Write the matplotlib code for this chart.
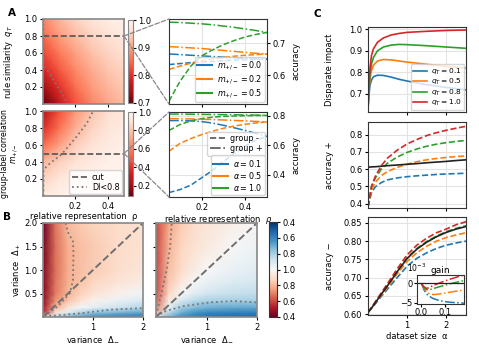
import numpy as np
import matplotlib
matplotlib.use('Agg')
import matplotlib.pyplot as plt
from matplotlib.patches import ConnectionPatch
from matplotlib.lines import Line2D

# ---------------- data ----------------
# Panel A, top heatmap: disparate impact vs relative representation (rho) and rule similarity (q_T)
rho_grid = [0.0, 0.1, 0.2, 0.3, 0.4, 0.5]
q_grid = [0.0, 0.2, 0.4, 0.6, 0.8, 1.0]
di_rho_q = [
    [0.700, 0.765, 0.830, 0.875, 0.905, 0.925],
    [0.735, 0.800, 0.855, 0.895, 0.920, 0.940],
    [0.785, 0.835, 0.880, 0.910, 0.935, 0.950],
    [0.820, 0.865, 0.900, 0.930, 0.950, 0.965],
    [0.850, 0.895, 0.925, 0.950, 0.965, 0.978],
    [0.875, 0.920, 0.950, 0.970, 0.985, 0.995],
]
q_cut = 0.8
di_top_contour_rho = [0.003, 0.003, 0.156]
di_top_contour_q = [1.0, 0.47, 0.0]

# Panel A, bottom heatmap: disparate impact vs rho and group-label correlation m
m_grid = [0.0, 0.2, 0.4, 0.6, 0.8, 1.0]
di_rho_m = [
    [0.95, 0.98, 0.99, 1.00, 1.00, 1.00],
    [0.85, 0.92, 0.96, 0.98, 0.99, 0.995],
    [0.76, 0.84, 0.90, 0.94, 0.97, 0.985],
    [0.55, 0.70, 0.83, 0.90, 0.94, 0.97],
    [0.38, 0.57, 0.74, 0.85, 0.91, 0.95],
    [0.25, 0.48, 0.67, 0.80, 0.88, 0.93],
]
m_cut = 0.5
di_bot_contour_rho = [0.003, 0.003, 0.043, 0.115, 0.208, 0.27, 0.31]
di_bot_contour_m = [0.0, 0.31, 0.385, 0.49, 0.70, 0.855, 1.0]

# Panel A, right: accuracy curves along the cuts
rho_line = [0.05, 0.1, 0.15, 0.2, 0.25, 0.3, 0.35, 0.4, 0.45, 0.5]
m_labels = [r'$m_{+/-}=0.0$', r'$m_{+/-}=0.2$', r'$m_{+/-}=0.5$']
acc_m_minus = [
    [0.633, 0.636, 0.639, 0.641, 0.643, 0.645, 0.647, 0.648, 0.649, 0.650],
    [0.618, 0.628, 0.637, 0.644, 0.650, 0.655, 0.659, 0.662, 0.664, 0.666],
    [0.519, 0.580, 0.628, 0.660, 0.679, 0.695, 0.708, 0.719, 0.727, 0.733],
]
acc_m_plus = [
    [0.666, 0.664, 0.662, 0.660, 0.658, 0.656, 0.654, 0.652, 0.651, 0.650],
    [0.689, 0.687, 0.685, 0.683, 0.680, 0.677, 0.674, 0.671, 0.668, 0.666],
    [0.765, 0.764, 0.762, 0.760, 0.757, 0.753, 0.749, 0.744, 0.739, 0.733],
]
a_labels = [r'$\alpha=0.1$', r'$\alpha=0.5$', r'$\alpha=1.0$']
acc_a_minus = [
    [0.280, 0.300, 0.330, 0.380, 0.430, 0.490, 0.545, 0.595, 0.635, 0.660],
    [0.560, 0.612, 0.645, 0.672, 0.695, 0.715, 0.730, 0.742, 0.751, 0.758],
    [0.700, 0.740, 0.765, 0.780, 0.790, 0.795, 0.798, 0.800, 0.801, 0.802],
]
acc_a_plus = [
    [0.767, 0.767, 0.765, 0.760, 0.750, 0.735, 0.718, 0.700, 0.680, 0.660],
    [0.780, 0.779, 0.778, 0.776, 0.774, 0.771, 0.768, 0.765, 0.761, 0.758],
    [0.811, 0.811, 0.810, 0.809, 0.808, 0.807, 0.806, 0.805, 0.804, 0.802],
]

# Panel B heatmaps: variance Delta_- (columns) and Delta_+ (rows)
# values on a folded scale: <1 -> DI (red side), >1 -> 2 - DI (blue side)
dminus_grid = [0.0, 0.25, 0.5, 0.75, 1.0, 1.5, 2.0]
dplus_grid = [0.0, 0.1, 0.2, 0.35, 0.5, 0.75, 1.0, 1.5, 2.0]
di_var_left = [
    [0.90, 1.15, 1.28, 1.34, 1.38, 1.42, 1.44],
    [0.55, 0.90, 1.07, 1.17, 1.23, 1.28, 1.31],
    [0.50, 0.79, 0.93, 1.01, 1.06, 1.13, 1.18],
    [0.47, 0.73, 0.83, 0.91, 0.97, 1.04, 1.09],
    [0.46, 0.69, 0.795, 0.86, 0.91, 0.97, 1.02],
    [0.45, 0.68, 0.785, 0.83, 0.87, 0.92, 0.95],
    [0.44, 0.67, 0.78, 0.82, 0.85, 0.895, 0.925],
    [0.42, 0.67, 0.78, 0.82, 0.845, 0.885, 0.91],
    [0.40, 0.68, 0.81, 0.845, 0.865, 0.89, 0.91],
]
di_var_right = [
    [1.00, 1.27, 1.37, 1.42, 1.45, 1.47, 1.48],
    [0.80, 1.16, 1.29, 1.35, 1.38, 1.40, 1.41],
    [0.70, 1.05, 1.21, 1.26, 1.29, 1.31, 1.31],
    [0.65, 0.95, 1.10, 1.16, 1.19, 1.20, 1.20],
    [0.62, 0.87, 1.00, 1.07, 1.11, 1.14, 1.15],
    [0.60, 0.84, 0.93, 1.00, 1.04, 1.08, 1.10],
    [0.60, 0.82, 0.89, 0.95, 1.00, 1.04, 1.07],
    [0.60, 0.79, 0.87, 0.91, 0.94, 1.00, 1.03],
    [0.60, 0.77, 0.85, 0.89, 0.92, 0.96, 1.00],
]
diag_line = [0.0, 2.0]
left_red_dm = [0.45, 0.50, 0.60, 0.61, 0.60, 0.54, 0.30, 0.03]
left_red_dp = [2.0, 1.8, 1.61, 1.36, 0.79, 0.51, 0.23, 0.02]
left_blue_dm = [0.03, 0.30, 0.80, 1.34, 2.0]
left_blue_dp = [0.02, 0.035, 0.085, 0.155, 0.19]
right_red_dm = [0.31, 0.28, 0.21, 0.11, 0.0]
right_red_dp = [1.98, 1.5, 1.0, 0.51, 0.02]
right_blue_dm = [0.0, 0.2, 0.54, 1.07, 1.53, 2.0]
right_blue_dp = [0.02, 0.13, 0.23, 0.31, 0.34, 0.31]
cb_ticks = [0.4, 0.6, 0.8, 1.0, 1.2, 1.4, 1.6]
cb_labels = ['0.4', '0.6', '0.8', '1.0', '0.8', '0.6', '0.4']

# Panel C: vs dataset size alpha
q_labels = [r'$q_T=0.1$', r'$q_T=0.5$', r'$q_T=0.8$', r'$q_T=1.0$']
alpha_di = [0.01, 0.03, 0.06, 0.1, 0.15, 0.25, 0.4, 0.6, 0.8, 1.0, 1.5, 2.0, 2.5]
di_alpha = [
    [0.63, 0.69, 0.74, 0.765, 0.78, 0.787, 0.786, 0.778, 0.768, 0.760, 0.743, 0.730, 0.719],
    [0.63, 0.70, 0.77, 0.81, 0.834, 0.853, 0.860, 0.858, 0.853, 0.848, 0.838, 0.828, 0.820],
    [0.63, 0.71, 0.79, 0.84, 0.87, 0.90, 0.918, 0.927, 0.930, 0.929, 0.924, 0.918, 0.912],
    [0.63, 0.72, 0.82, 0.88, 0.91, 0.94, 0.960, 0.974, 0.981, 0.986, 0.991, 0.995, 0.997],
]
alpha_acc = [0.01, 0.1, 0.2, 0.35, 0.5, 0.75, 1.0, 1.25, 1.5, 1.75, 2.0, 2.25, 2.5]
acc_plus = [
    [0.38, 0.465, 0.498, 0.522, 0.537, 0.549, 0.556, 0.561, 0.565, 0.569, 0.572, 0.574, 0.576],
    [0.38, 0.48, 0.525, 0.563, 0.585, 0.610, 0.629, 0.643, 0.654, 0.662, 0.668, 0.673, 0.677],
    [0.38, 0.50, 0.55, 0.60, 0.634, 0.670, 0.697, 0.717, 0.733, 0.745, 0.754, 0.761, 0.767],
    [0.38, 0.50, 0.56, 0.62, 0.663, 0.710, 0.746, 0.772, 0.795, 0.812, 0.826, 0.838, 0.849],
]
acc_plus_ref = [0.611, 0.613, 0.614, 0.617, 0.620, 0.624, 0.628, 0.632, 0.637, 0.641, 0.645, 0.650, 0.654]
acc_minus = [
    [0.605, 0.616, 0.629, 0.649, 0.668, 0.700, 0.731, 0.753, 0.768, 0.780, 0.789, 0.795, 0.800],
    [0.605, 0.617, 0.631, 0.652, 0.673, 0.710, 0.744, 0.768, 0.786, 0.800, 0.810, 0.817, 0.823],
    [0.605, 0.618, 0.633, 0.656, 0.679, 0.718, 0.754, 0.780, 0.799, 0.814, 0.826, 0.835, 0.842],
    [0.605, 0.619, 0.635, 0.659, 0.683, 0.724, 0.762, 0.789, 0.808, 0.823, 0.833, 0.845, 0.853],
]
acc_minus_ref = [0.605, 0.617, 0.632, 0.655, 0.677, 0.716, 0.752, 0.778, 0.797, 0.812, 0.824, 0.833, 0.840]
gain_x = [0.0, 0.01, 0.02, 0.03, 0.05, 0.07, 0.1, 0.13, 0.16, 0.18]
gain_1e3 = [
    [0, -1.5, -2.6, -3.2, -3.9, -4.3, -4.7, -4.9, -5.0, -5.1],
    [0, -1.2, -2.1, -2.6, -2.9, -2.8, -2.5, -2.2, -1.9, -1.7],
    [0, -1.0, -1.6, -1.7, -1.4, -1.0, -0.5, 0.0, 0.4, 0.7],
    [0, -0.8, -1.3, -1.2, -0.6, -0.1, 0.6, 1.2, 1.75, 2.1],
]

# ---------------- style ----------------
FS = 6
plt.rcParams.update({
    'font.family': ['DejaVu Sans'],
    'font.size': FS,
    'axes.linewidth': 0.8,
    'axes.edgecolor': '#333333',
    'xtick.major.size': 2.5, 'ytick.major.size': 2.5,
    'xtick.major.width': 0.8, 'ytick.major.width': 0.8,
    'xtick.major.pad': 1.5, 'ytick.major.pad': 1.5,
    'xtick.labelsize': FS, 'ytick.labelsize': FS,
    'axes.labelsize': FS,
    'legend.fontsize': 5.8,
    'legend.handlelength': 1.9,
    'legend.borderpad': 0.3,
    'legend.labelspacing': 0.12,
    'legend.handletextpad': 0.6,
    'legend.borderaxespad': 0.25,
})
C3 = ['#1f77b4', '#ff7f0e', '#2ca02c']
C4 = ['#1f77b4', '#ff7f0e', '#2ca02c', '#d62728']
HM_EDGE = '#888888'
DOT_C = '#777777'
CUT_C = '#555555'

W, H = 479, 347
fig = plt.figure(figsize=(W / 100, H / 100), dpi=100)


def add_ax(x0, y0, x1, y1):
    return fig.add_axes([x0 / W, 1 - y1 / H, (x1 - x0) / W, (y1 - y0) / H])


def hm_frame(ax):
    for s in ax.spines.values():
        s.set_color(HM_EDGE)
        s.set_linewidth(1.2)


def line_grid(ax):
    ax.grid(True, color='#e3e3e3', lw=0.8)
    ax.set_axisbelow(True)

# ---------------- Panel A heatmaps ----------------
axA1 = add_ax(43, 19, 124, 104)
pm = axA1.pcolormesh(rho_grid, q_grid, np.array(di_rho_q), shading='gouraud',
                     cmap='Reds_r', vmin=0.7, vmax=1.0, rasterized=True)
axA1.plot([rho_grid[0], rho_grid[-1]], [q_cut, q_cut], ls='--', color=CUT_C, lw=1.2)
axA1.plot(di_top_contour_rho, di_top_contour_q, ls=':', color=DOT_C, lw=1.3)
axA1.set_xlim(0, 0.5); axA1.set_ylim(0, 1)
axA1.set_xticks([0.2, 0.4]); axA1.set_xticklabels([])
axA1.set_yticks([0.2, 0.4, 0.6, 0.8, 1.0])
axA1.set_ylabel(r'rule similarity  $q_T$')
axA1.yaxis.set_label_coords(-0.34, 0.5)
hm_frame(axA1)
cA1 = add_ax(128, 20, 133, 103)
cb = fig.colorbar(pm, cax=cA1, ticks=[0.7, 0.8, 0.9, 1.0])
cb.outline.set_edgecolor(HM_EDGE)
cA1.tick_params(length=2, pad=1.5)

axA2 = add_ax(43, 111, 124, 196)
pm2 = axA2.pcolormesh(rho_grid, m_grid, np.array(di_rho_m), shading='gouraud',
                      cmap='Reds_r', vmin=0.09, vmax=1.0, rasterized=True)
axA2.plot([rho_grid[0], rho_grid[-1]], [m_cut, m_cut], ls='--', color=CUT_C, lw=1.2, label='cut')
axA2.plot(di_bot_contour_rho, di_bot_contour_m, ls=':', color=DOT_C, lw=1.3, label='DI<0.8')
axA2.set_xlim(0, 0.5); axA2.set_ylim(0, 1)
axA2.set_xticks([0.2, 0.4])
axA2.set_yticks([0.2, 0.4, 0.6, 0.8, 1.0])
axA2.set_ylabel('group-label correlation\n' + r'$m_{+/-}$', linespacing=1.0, fontsize=5.6)
axA2.yaxis.set_label_coords(-0.28, 0.5)
axA2.set_xlabel('relative representation  ρ', labelpad=1)
axA2.legend(loc='lower right', fancybox=True)
hm_frame(axA2)
cA2 = add_ax(128, 112, 133, 196)
cb2 = fig.colorbar(pm2, cax=cA2, ticks=[0.2, 0.4, 0.6, 0.8, 1.0])
cb2.outline.set_edgecolor(HM_EDGE)
cA2.tick_params(length=2, pad=1.5)

# ---------------- Panel A line plots ----------------
axA3 = add_ax(169, 19, 267, 104)
line_grid(axA3)
for c, gm, gp in zip(C3, acc_m_minus, acc_m_plus):
    axA3.plot(rho_line, gm, ls='--', color=c, lw=1.1)
    axA3.plot(rho_line, gp, ls='-.', color=c, lw=1.1)
axA3.set_xlim(0.05, 0.5); axA3.set_ylim(0.51, 0.775)
axA3.set_xticks([0.2, 0.4]); axA3.set_xticklabels([])
axA3.set_yticks([0.6, 0.7])
axA3.yaxis.tick_right(); axA3.yaxis.set_label_position('right')
axA3.set_ylabel('accuracy')
axA3.legend([Line2D([], [], color=c, lw=1.5) for c in C3], m_labels, loc='lower right')

axA4 = add_ax(169, 112, 267, 197)
line_grid(axA4)
for c, gm, gp in zip(C3, acc_a_minus, acc_a_plus):
    axA4.plot(rho_line, gm, ls='--', color=c, lw=1.1)
    axA4.plot(rho_line, gp, ls='-.', color=c, lw=1.1)
axA4.set_xlim(0.05, 0.5); axA4.set_ylim(0.25, 0.825)
axA4.set_xticks([0.2, 0.4])
axA4.set_yticks([0.4, 0.6, 0.8])
axA4.yaxis.tick_right(); axA4.yaxis.set_label_position('right')
axA4.set_ylabel('accuracy')
axA4.set_xlabel(r'relative representation  $\rho$', labelpad=1)
leg1 = axA4.legend([Line2D([], [], color=CUT_C, ls='--', lw=1.2),
                    Line2D([], [], color=CUT_C, ls='-.', lw=1.2)],
                   ['group -', 'group +'], loc='upper right', bbox_to_anchor=(1.0, 0.79))
axA4.add_artist(leg1)
axA4.legend([Line2D([], [], color=c, lw=1.5) for c in C3], a_labels, loc='lower right')

# connectors
for axh, yv, axl in [(axA1, q_cut, axA3), (axA2, m_cut, axA4)]:
    for yb in (1, 0):
        con = ConnectionPatch(xyA=(0.5, yv), coordsA='data', axesA=axh,
                              xyB=(0, yb), coordsB='axes fraction', axesB=axl,
                              color='#888888', ls='--', lw=0.9)
        fig.add_artist(con)

# ---------------- Panel B ----------------
axB1 = add_ax(43, 223, 143, 317)
pb = axB1.pcolormesh(dminus_grid, dplus_grid, np.array(di_var_left), shading='gouraud',
                     cmap='RdBu', vmin=0.4, vmax=1.6, rasterized=True)
axB1.plot(diag_line, diag_line, ls='--', color='#707070', lw=1.4)
axB1.plot(left_red_dm, left_red_dp, ls=':', color=DOT_C, lw=1.3)
axB1.plot(left_blue_dm, left_blue_dp, ls=':', color=DOT_C, lw=1.3)
axB1.set_xlim(0, 2); axB1.set_ylim(0, 2)
axB1.set_xticks([1, 2]); axB1.set_yticks([0.5, 1.0, 1.5, 2.0])
axB1.set_xlabel(r'variance  $\Delta_{-}$', labelpad=2)
axB1.set_ylabel(r'variance  $\Delta_{+}$')
axB1.yaxis.set_label_coords(-0.2, 0.5)
hm_frame(axB1)

axB2 = add_ax(156, 223, 257, 317)
axB2.pcolormesh(dminus_grid, dplus_grid, np.array(di_var_right), shading='gouraud',
                cmap='RdBu', vmin=0.4, vmax=1.6, rasterized=True)
axB2.plot(diag_line, diag_line, ls='--', color='#707070', lw=1.4)
axB2.plot(right_red_dm, right_red_dp, ls=':', color=DOT_C, lw=1.3)
axB2.plot(right_blue_dm, right_blue_dp, ls=':', color=DOT_C, lw=1.3)
axB2.set_xlim(0, 2); axB2.set_ylim(0, 2)
axB2.set_xticks([1, 2]); axB2.set_yticks([0.5, 1.0, 1.5, 2.0]); axB2.set_yticklabels([])
axB2.set_xlabel(r'variance  $\Delta_{-}$', labelpad=2)
hm_frame(axB2)

cB = add_ax(269, 222, 277, 317)
cbB = fig.colorbar(pb, cax=cB, ticks=cb_ticks)
cbB.ax.set_yticklabels(cb_labels)
cbB.outline.set_edgecolor('#333333')
cbB.outline.set_linewidth(0.8)
cB.tick_params(length=2.5, pad=1.5)

# ---------------- Panel C ----------------
axC1 = add_ax(368, 27, 466, 112)
line_grid(axC1)
for c, y, lab in zip(C4, di_alpha, q_labels):
    axC1.plot(alpha_di, y, color=c, lw=1.2, label=lab)
axC1.set_xlim(0.01, 2.5); axC1.set_ylim(0.616, 1.011)
axC1.set_xticks([1, 2]); axC1.set_xticklabels([])
axC1.set_yticks([0.7, 0.8, 0.9, 1.0])
axC1.set_ylabel('Disparate impact')
axC1.yaxis.set_label_coords(-0.35, 0.5)
axC1.legend(loc='lower right', fontsize=5.4, labelspacing=0.05, borderpad=0.25)

axC2 = add_ax(368, 122, 466, 208)
line_grid(axC2)
for c, y in zip(C4, acc_plus):
    axC2.plot(alpha_acc, y, color=c, ls='--', lw=1.2)
axC2.plot(alpha_acc, acc_plus_ref, color='#222222', lw=1.2)
axC2.set_xlim(0.01, 2.5); axC2.set_ylim(0.374, 0.874)
axC2.set_xticks([1, 2]); axC2.set_xticklabels([])
axC2.set_yticks([0.4, 0.5, 0.6, 0.7, 0.8])
axC2.set_ylabel('accuracy +')
axC2.yaxis.set_label_coords(-0.35, 0.5)

axC3 = add_ax(368, 217, 466, 315)
line_grid(axC3)
for c, y in zip(C4, acc_minus):
    axC3.plot(alpha_acc, y, color=c, ls='--', lw=1.2)
axC3.plot(alpha_acc, acc_minus_ref, color='#222222', lw=1.2)
axC3.set_xlim(0.01, 2.5); axC3.set_ylim(0.598, 0.866)
axC3.set_xticks([1, 2])
axC3.set_yticks([0.60, 0.65, 0.70, 0.75, 0.80, 0.85])
axC3.set_ylabel('accuracy −')
axC3.yaxis.set_label_coords(-0.35, 0.5)
axC3.set_xlabel('dataset size  α', labelpad=2)

axIn = add_ax(417, 275, 464, 304)
for c, g in zip(C4, gain_1e3):
    axIn.plot(gain_x, g, color=c, ls='-.', lw=1.1)
axIn.axhline(0, color='#222222', lw=0.9)
axIn.set_xlim(-0.018, 0.18); axIn.set_ylim(-5.3, 2.1)
axIn.set_xticks([0.0, 0.1]); axIn.set_yticks([-5, 0])
axIn.set_yticklabels(['−5', '0'])
axIn.tick_params(length=2, pad=1)
axIn.set_title('gain', pad=1.5, fontsize=6.5)
axIn.text(0.0, 1.03, r'$10^{-3}$', transform=axIn.transAxes, ha='center', va='bottom', fontsize=5.5)

# panel letters
fig.text(8 / W, 1 - 13 / H, 'A', fontweight='bold', fontsize=7.5, va='center')
fig.text(3 / W, 1 - 217 / H, 'B', fontweight='bold', fontsize=7.5, va='center')
fig.text(313 / W, 1 - 14 / H, 'C', fontweight='bold', fontsize=7.5, va='center')

fig.savefig('out.png', dpi=100)
